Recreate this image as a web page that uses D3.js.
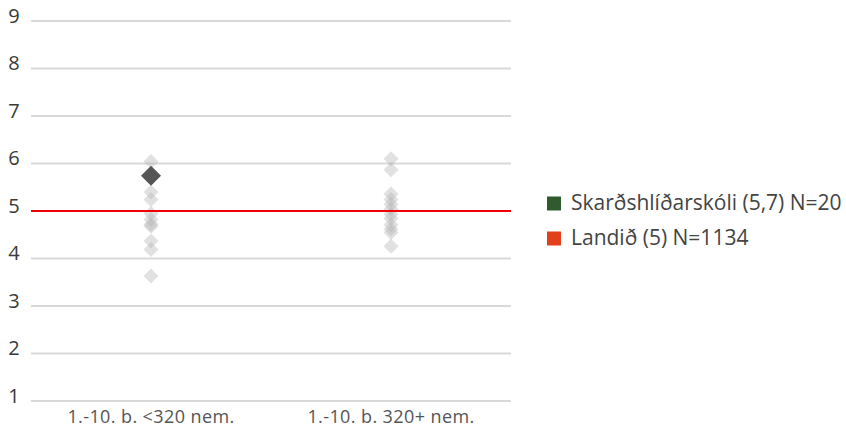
<!DOCTYPE html>
<html>
<head>
<meta charset="utf-8">
<script src="https://d3js.org/d3.v7.min.js"></script>
<style>
  body { margin: 0; background: #fff; }
  svg { font-family: "Open Sans", sans-serif; }
</style>
</head>
<body>
<svg id="chart" width="846" height="430"></svg>
<script>
// gögn
const categories = ['1.-10. b. <320 nem.', '1.-10. b. 320+ nem.'];
const otherSchools = [
    [6.04, 5.40, 5.24, 4.95, 4.82, 4.72, 4.68, 4.37, 4.19, 3.63],
    [6.10, 5.87, 5.36, 5.24, 5.14, 5.04, 4.93, 4.84, 4.71, 4.62, 4.55, 4.26]
];
const schoolName = 'Skarðshlíðarskóli';
const schoolCategory = 0;
const schoolValue = 5.74;
const schoolN = 20;
const nationalValue = 5;
const nationalN = 1134;
const yTicks = [1, 2, 3, 4, 5, 6, 7, 8, 9];

const svg = d3.select('#chart');
const plotLeft = 31, plotRight = 511, plotTop = 21, plotBottom = 401;

const x = d3.scaleBand().domain(categories).range([plotLeft, plotRight]);
const y = d3.scaleLinear().domain([1, 9]).range([plotBottom, plotTop]);

// rásir
svg.append('g')
    .selectAll('line')
    .data(yTicks)
    .enter()
    .append('line')
    .attr('x1', plotLeft)
    .attr('x2', plotRight)
    .attr('y1', d => y(d))
    .attr('y2', d => y(d))
    .attr('stroke', '#d9d9d9')
    .attr('stroke-width', 2);

svg.append('g')
    .selectAll('text')
    .data(yTicks)
    .enter()
    .append('text')
    .attr('x', 14)
    .attr('y', d => y(d) + 1.5)
    .attr('text-anchor', 'middle')
    .attr('font-size', 20)
    .attr('fill', '#3a3a3a')
    .text(d => d);

svg.append('g')
    .selectAll('text')
    .data(categories)
    .enter()
    .append('text')
    .attr('x', d => x(d) + x.bandwidth() / 2)
    .attr('y', plotBottom + 22)
    .attr('text-anchor', 'middle')
    .attr('font-size', 18)
    .attr('letter-spacing', 0.4)
    .attr('fill', '#555')
    .text(d => d);

const diamond = (r) => `M0,${-r}L${r},0L0,${r}L${-r},0Z`;

// aðrir skólar
otherSchools.forEach((vals, ci) => {
    svg.append('g')
        .selectAll('path')
        .data(vals)
        .enter()
        .append('path')
        .attr('d', diamond(7.5))
        .attr('transform', d => `translate(${x(categories[ci]) + x.bandwidth() / 2},${y(d)})`)
        .attr('fill', '#b4b4b4')
        .attr('fill-opacity', 0.4);
});

// landið
svg.append('line')
    .attr('x1', plotLeft)
    .attr('x2', plotRight)
    .attr('y1', y(nationalValue))
    .attr('y2', y(nationalValue))
    .attr('stroke', '#ee0000')
    .attr('stroke-width', 2);

// skólinn
svg.append('path')
    .attr('d', diamond(10))
    .attr('transform', `translate(${x(categories[schoolCategory]) + x.bandwidth() / 2},${y(schoolValue)})`)
    .attr('fill', '#555');

// skýringar
const legend = [
    { label: `${schoolName} (${String(Math.round(schoolValue * 10) / 10).replace('.', ',')}) N=${schoolN}`, color: '#2f5b2f' },
    { label: `Landið (${nationalValue}) N=${nationalN}`, color: '#e2401a' }
];
const lg = svg.append('g').selectAll('g')
    .data(legend)
    .enter()
    .append('g')
    .attr('transform', (d, i) => `translate(547,${203.5 + i * 35})`);
lg.append('rect')
    .attr('x', 0)
    .attr('y', -7)
    .attr('width', 14)
    .attr('height', 14)
    .attr('fill', d => d.color);
lg.append('text')
    .attr('x', 24)
    .attr('y', 6.5)
    .attr('font-size', 21)
    .attr('fill', '#444')
    .text(d => d.label);
</script>
</body>
</html>
